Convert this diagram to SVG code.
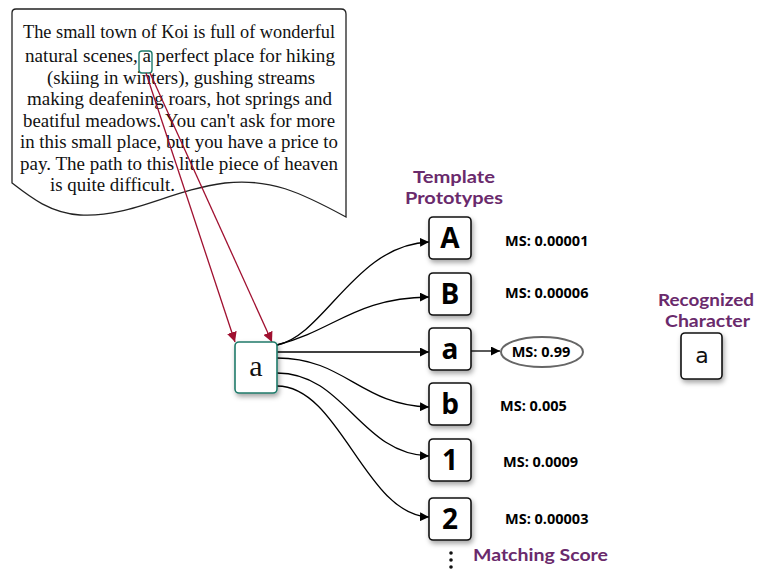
<svg xmlns="http://www.w3.org/2000/svg" width="757" height="570" viewBox="0 0 757 570">
<defs>
<style>
.doc{font-family:"Liberation Serif","DejaVu Serif",serif;font-size:18px;fill:#111}
.box{fill:#fff;stroke:#111;stroke-width:1.6}
.tl{font-family:"Open Sans","DejaVu Sans",sans-serif;font-weight:bold;font-size:28px;fill:#000;text-anchor:middle}
.ms{font-family:"Open Sans","DejaVu Sans",sans-serif;font-weight:bold;font-size:14.5px;fill:#000}
.hd{font-family:Lato,"Open Sans",sans-serif;font-weight:bold;font-size:17px;fill:#6a2a6c}
.con{fill:none;stroke:#000;stroke-width:1.3}
.red{fill:none;stroke:#a01030;stroke-width:1.3}
</style>
<marker id="ah" viewBox="0 0 10 10" refX="10" refY="5" markerWidth="9" markerHeight="9" markerUnits="userSpaceOnUse" orient="auto"><path d="M0,0 L10,5 L0,10 z" fill="#000"/></marker>
<marker id="ahr" viewBox="0 0 10 10" refX="10" refY="5" markerWidth="10" markerHeight="10" markerUnits="userSpaceOnUse" orient="auto"><path d="M0,0 L10,5 L0,10 z" fill="#a01030"/></marker>
<filter id="sh" x="-30%" y="-30%" width="170%" height="170%"><feDropShadow dx="1.5" dy="3" stdDeviation="2.5" flood-color="#000" flood-opacity="0.35"/></filter>
</defs>
<g id="document">
<path d="M16,9 L341,9 Q346,9 346,14 L346,217 C300,192 270,178 225,183 C170,190 130,218 80,215 C50,213 30,197 12,183 L12,13 Q12,9 16,9 Z" fill="#fff" stroke="#222" stroke-width="1.3"/>
<text class="doc" x="23" y="38" textLength="312" lengthAdjust="spacingAndGlyphs">The small town of Koi is full of wonderful</text>
<text class="doc" x="25" y="62" textLength="310" lengthAdjust="spacingAndGlyphs">natural scenes, a perfect place for hiking</text>
<text class="doc" x="47" y="84" textLength="268" lengthAdjust="spacingAndGlyphs">(skiing in winters), gushing streams</text>
<text class="doc" x="27" y="105" textLength="305" lengthAdjust="spacingAndGlyphs">making deafening roars, hot springs and</text>
<text class="doc" x="23" y="127" textLength="312" lengthAdjust="spacingAndGlyphs">beatiful meadows. You can't ask for more</text>
<text class="doc" x="20" y="148" textLength="318" lengthAdjust="spacingAndGlyphs">in this small place, but you have a price to</text>
<text class="doc" x="20" y="170" textLength="318" lengthAdjust="spacingAndGlyphs">pay. The path to this little piece of heaven</text>
<text class="doc" x="50" y="191" textLength="125" lengthAdjust="spacingAndGlyphs">is quite difficult.</text>
<rect x="139" y="51" width="13" height="22" rx="3" fill="none" stroke="#1f7a6a" stroke-width="1.4"/>
</g>
<g id="connectors">
<path class="red" d="M146,73 L235,342" marker-end="url(#ahr)"/>
<path class="red" d="M150,73 L272,342" marker-end="url(#ahr)"/>
<path class="con" d="M277,345 C325,335 355,245 429,242" marker-end="url(#ah)"/>
<path class="con" d="M277,345 C335,330 355,298 429,297" marker-end="url(#ah)"/>
<path class="con" d="M277,352 L429,352" marker-end="url(#ah)"/>
<path class="con" d="M277,358 C345,358 360,405 429,407" marker-end="url(#ah)"/>
<path class="con" d="M277,373 C345,373 360,454 429,456" marker-end="url(#ah)"/>
<path class="con" d="M277,386 C340,386 365,515 429,517" marker-end="url(#ah)"/>
<path class="con" d="M471,351 L500,351" marker-end="url(#ah)"/>
</g>
<g id="node-input">
<rect x="235" y="342" width="42" height="51" rx="4" fill="#fff" stroke="#1f7a6a" stroke-width="1.6" filter="url(#sh)"/>
<text x="256" y="376" font-family="Liberation Serif,DejaVu Serif,serif" font-size="30" text-anchor="middle" fill="#111">a</text>
</g>
<g id="label-template"><text class="hd" x="413" y="183" textLength="82" lengthAdjust="spacingAndGlyphs">Template</text><text class="hd" x="405" y="204" textLength="98" lengthAdjust="spacingAndGlyphs">Prototypes</text></g>
<g id="node-A"><rect class="box" x="429" y="217" width="42" height="42" rx="4" filter="url(#sh)"/><text class="tl" x="450" y="248">A</text></g>
<g id="node-B"><rect class="box" x="429" y="273" width="42" height="42" rx="4" filter="url(#sh)"/><text class="tl" x="450" y="304">B</text></g>
<g id="node-a"><rect class="box" x="429" y="328" width="42" height="42" rx="4" filter="url(#sh)"/><text class="tl" x="450" y="359">a</text></g>
<g id="node-b"><rect class="box" x="429" y="383" width="42" height="42" rx="4" filter="url(#sh)"/><text class="tl" x="450" y="414">b</text></g>
<g id="node-1"><rect class="box" x="429" y="439" width="42" height="42" rx="4" filter="url(#sh)"/><text class="tl" x="450" y="470">1</text></g>
<g id="node-2"><rect class="box" x="429" y="498" width="42" height="42" rx="4" filter="url(#sh)"/><text class="tl" x="450" y="529">2</text></g>
<g id="scores">
<text class="ms" x="505" y="246">MS: 0.00001</text>
<text class="ms" x="505" y="298">MS: 0.00006</text>
<ellipse cx="542" cy="352" rx="41" ry="15" fill="#fff" stroke="#666" stroke-width="2"/>
<text class="ms" x="541" y="357" text-anchor="middle">MS: 0.99</text>
<text class="ms" x="500" y="411">MS: 0.005</text>
<text class="ms" x="503" y="467">MS: 0.0009</text>
<text class="ms" x="505" y="524">MS: 0.00003</text>
</g>
<g id="dots" fill="#111"><circle cx="451" cy="553" r="1.8"/><circle cx="451" cy="560" r="1.8"/><circle cx="451" cy="567" r="1.8"/></g>
<g id="label-matching"><text class="hd" x="473" y="561" textLength="135" lengthAdjust="spacingAndGlyphs">Matching Score</text></g>
<g id="label-recognized"><text class="hd" x="658" y="306" textLength="96" lengthAdjust="spacingAndGlyphs">Recognized</text><text class="hd" x="665" y="327" textLength="85" lengthAdjust="spacingAndGlyphs">Character</text></g>
<g id="node-result"><rect class="box" x="681" y="333" width="41" height="46" rx="4" filter="url(#sh)"/><text x="702" y="363" font-family="DejaVu Sans,sans-serif" font-size="22" text-anchor="middle" fill="#111">a</text></g>
</svg>
